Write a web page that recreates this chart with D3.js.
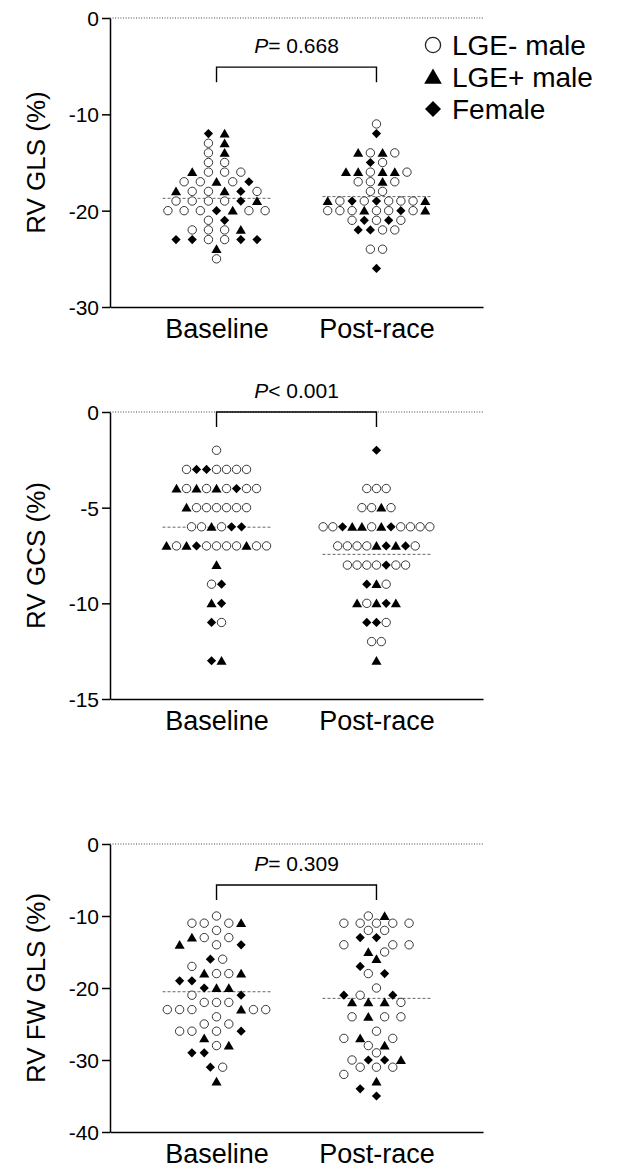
<!DOCTYPE html>
<html>
<head>
<meta charset="utf-8">
<script src="https://cdn.jsdelivr.net/npm/d3@7"></script>
<style>
  body { margin: 0; background: #fff; }
  text { font-family: "Liberation Sans", Arial, sans-serif; fill: #000; }
</style>
</head>
<body>
<div class="chart"></div>
<script>
// o = LGE- male, t = LGE+ male, d = Female
// each row: [value, symbols from left to right]
const groups = ['Baseline', 'Post-race'];
const legendTypes = ['o', 't', 'd'];
const legendLabels = ['LGE- male', 'LGE+ male', 'Female'];

const glsBaseline = [[-12, 'dt'], [-13, 'ot'], [-14, 'ot'], [-15, 'oo'], [-16, 'tooo'], [-17, 'ootod'],
  [-18, 'tootdo'], [-19, 'oooodt'], [-20, 'ooodtoo'], [-21, 'od'], [-22, 'ooot'], [-23, 'ddoodd'],
  [-24, 't'], [-25, 'o']];
const glsPost = [[-11, 'o'], [-12, 'd'], [-14, 'toto'], [-15, 'do'], [-16, 'ttotto'], [-17, 'ooto'],
  [-18, 'oo'], [-19, 'tododooot'], [-20, 'oootoodot'], [-21, 'ododo'], [-22, 'ddoo'], [-24, 'oo'],
  [-26, 'd']];

const gcsBaseline = [[-2, 'o'], [-3, 'oddoooo'], [-4, 'tototodoo'], [-5, 'toooooo'], [-6, 'ootodd'],
  [-7, 'totdooootoo'], [-8, 't'], [-9, 'od'], [-10, 'td'], [-11, 'do'], [-13, 'dt']];
const gcsPost = [[-2, 'd'], [-4, 'ooo'], [-5, 'ooto'], [-6, 'oodttotdoooo'], [-7, 'ooootdtdo'],
  [-8, 'oooodoo'], [-9, 'dto'], [-10, 'totdt'], [-11, 'ddo'], [-12, 'oo'], [-13, 't']];

const fwBaseline = [[-10, 'o'], [-11, 'ooot'], [-12, 'o'], [-13, 'too'], [-14, 'tod'], [-16, 'do'],
  [-17, 'o'], [-18, 'toot'], [-19, 'dd'], [-20, 'dtt'], [-21, 'od'], [-22, 'ooo'], [-23, 'oootoo'],
  [-24, 'o'], [-25, 'oo'], [-26, 'oood'], [-27, 't'], [-28, 'ot'], [-29, 'dd'], [-31, 'do'], [-33, 't']];
const fwPost = [[-10, 'ot'], [-11, 'ooooo'], [-12, 'oo'], [-13, 'dd'], [-14, 'ooo'], [-15, 'to'],
  [-16, 't'], [-17, 'd'], [-18, 'od'], [-20, 'o'], [-21, 'dod'], [-22, 'ttto'], [-24, 'otoo'],
  [-26, 'o'], [-27, 'oto'], [-28, 'ot'], [-29, 'o'], [-30, 'oddt'], [-31, 'ooo'], [-32, 'o'],
  [-33, 't'], [-34, 'd'], [-35, 'd']];

const yTitles = ['RV GLS (%)', 'RV GCS (%)', 'RV FW GLS (%)'];
const pLabels = ['= 0.668', '< 0.001', '= 0.309'];
const yDomains = [[-30, 0], [-15, 0], [-40, 0]];
const yTicks = [[0, -10, -20, -30], [0, -5, -10, -15], [0, -10, -20, -30, -40]];
const bracketValues = [-5.1, 0, -5.7];

const panelData = [[glsBaseline, glsPost], [gcsBaseline, gcsPost], [fwBaseline, fwPost]];

// layout
const margin = {left: 110};
const width = 373;
const panelTop = [18, 412, 844];
const panelHeight = [289, 287, 288];
const spacing = [[16.2, 12.2], [10, 9.7], [12.3, 16.3]];
const minDist = 9.5;

let svg = d3.select('.chart')
  .append('svg')
    .attr('width', 628)
    .attr('height', 1174);

let xScale = d3.scalePoint()
  .domain(groups)
  .range([0, width])
  .padding(0.666);

function shape(type, r) {
  if (type === 't') return `M0,${-r * 1.05}L${r * 1.1},${r * 0.85}L${-r * 1.1},${r * 0.85}Z`;
  return `M0,${-r}L${r},0L0,${r}L${-r},0Z`;
}

function drawMark(sel, type, r) {
  if (type === 'o') {
    sel.append('circle').attr('r', r - 0.4)
      .attr('fill', '#fff').attr('stroke', '#222').attr('stroke-width', r > 6 ? 1.3 : 0.9);
  } else {
    sel.append('path').attr('d', shape(type, r)).attr('fill', '#000');
  }
}

// rows stay centred unless they bump into earlier rows, then fill free slots out from the middle
function swarm(rows, y, s) {
  const placed = [];
  const out = [];
  rows.forEach(([v, syms]) => {
    const n = syms.length;
    const py = y(v);
    const hits = dx => placed.some(p => Math.hypot(p.dx - dx, p.y - py) < minDist);
    let slots = d3.range(n).map(i => (i - (n - 1) / 2) * s);
    if (slots.some(hits)) {
      slots = [];
      for (let k = 0; slots.length < n; k++) {
        for (const c of (k ? [-k, k] : [0])) {
          if (slots.length < n && !hits(c * s)) slots.push(c * s);
        }
      }
      slots.sort(d3.ascending);
    }
    slots.forEach((dx, i) => {
      placed.push({dx, y: py});
      out.push({value: v, type: syms[i], dx});
    });
  });
  return out;
}

panelData.forEach((cols, i) => {
  const h = panelHeight[i];
  const g = svg.append('g')
    .attr('transform', `translate(${margin.left}, ${panelTop[i]})`);

  let yScale = d3.scaleLinear()
    .domain(yDomains[i])
    .range([h, 0]);

  // dotted zero line
  g.append('line')
    .attr('x1', 0).attr('x2', width)
    .attr('y1', yScale(0)).attr('y2', yScale(0))
    .attr('stroke', '#444')
    .attr('stroke-width', 1)
    .attr('stroke-dasharray', '1,1.6');

  let yAxis = d3.axisLeft(yScale)
    .tickValues(yTicks[i])
    .tickFormat(d => String(d))
    .tickSizeInner(8)
    .tickSizeOuter(0)
    .tickPadding(3);
  const ya = g.append('g').call(yAxis);
  ya.selectAll('text').style('font-size', '21px').attr('dy', '0.36em');
  ya.selectAll('path, line').attr('stroke', '#000').attr('stroke-width', 1.5);

  let xAxis = d3.axisBottom(xScale)
    .tickSize(0)
    .tickPadding(12);
  const xa = g.append('g')
    .attr('transform', `translate(0, ${h})`)
    .call(xAxis);
  xa.selectAll('text').style('font-size', '27px').attr('dy', '0.71em');
  xa.select('.domain').attr('stroke', '#000').attr('stroke-width', 1.5);

  g.append('text')
    .attr('transform', `translate(${36 - margin.left}, ${h / 2}) rotate(-90)`)
    .attr('text-anchor', 'middle')
    .attr('dy', '0.35em')
    .style('font-size', '26px')
    .text(yTitles[i]);

  // comparison bracket
  const bx0 = xScale(groups[0]);
  const bx1 = xScale(groups[1]);
  const by = yScale(bracketValues[i]);
  g.append('path')
    .attr('d', `M${bx0},${by + 15}V${by}H${bx1}V${by + 15}`)
    .attr('fill', 'none')
    .attr('stroke', '#000')
    .attr('stroke-width', 1.4);
  const pt = g.append('text')
    .attr('x', (bx0 + bx1) / 2)
    .attr('y', by - 14)
    .attr('text-anchor', 'middle')
    .style('font-size', '21px');
  pt.append('tspan').style('font-style', 'italic').text('P');
  pt.append('tspan').text(pLabels[i]);

  cols.forEach((rows, j) => {
    const cx = xScale(groups[j]);
    const pts = swarm(rows, yScale, spacing[i][j]);
    const mean = d3.mean(pts, d => d.value);

    g.append('line')
      .attr('x1', cx - 54).attr('x2', cx + 54)
      .attr('y1', yScale(mean)).attr('y2', yScale(mean))
      .attr('stroke', '#555')
      .attr('stroke-width', 0.9)
      .attr('stroke-dasharray', '3,2');

    g.append('g').selectAll('g')
      .data(pts)
      .join('g')
        .attr('transform', d => `translate(${cx + d.dx}, ${yScale(d.value)})`)
        .each(function(d) { drawMark(d3.select(this), d.type, 4.6); });
  });
});

// legend
const legend = svg.append('g').attr('transform', 'translate(433, 45)');
legendTypes.forEach((t, i) => {
  const row = legend.append('g').attr('transform', `translate(0, ${i * 32})`);
  drawMark(row, t, 8);
  row.append('text')
    .attr('x', 19)
    .attr('dy', '0.35em')
    .style('font-size', '28px')
    .text(legendLabels[i]);
});
</script>
</body>
</html>
